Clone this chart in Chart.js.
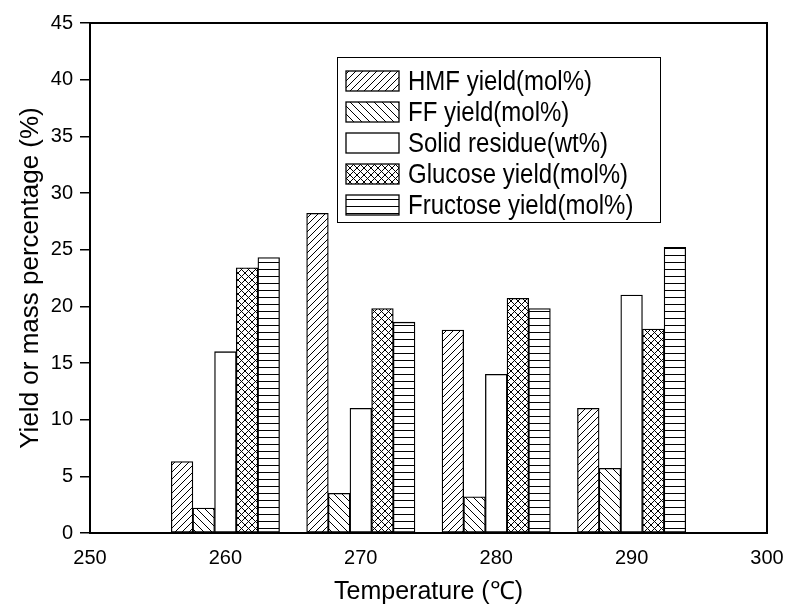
<!DOCTYPE html>
<html>
<head>
<meta charset="utf-8">
<script src="https://cdn.jsdelivr.net/npm/chart.js@4/dist/chart.umd.min.js"></script>
<style>
  html, body { margin: 0; padding: 0; background: #fff; }
  #wrap { width: 786px; height: 604px; }
</style>
</head>
<body>
<div id="wrap"><canvas id="c" width="786" height="604"></canvas></div>
<script>
// ---- Data ----
const temperatures = [260, 270, 280, 290];
const seriesNames = ['HMF yield(mol%)', 'FF yield(mol%)', 'Solid residue(wt%)', 'Glucose yield(mol%)', 'Fructose yield(mol%)'];
const hmfYield      = [6.3, 28.2, 17.9, 11.0];
const ffYield       = [2.2, 3.5, 3.2, 5.7];
const solidResidue  = [16.0, 11.0, 14.0, 21.0];
const glucoseYield  = [23.4, 19.8, 20.7, 18.0];
const fructoseYield = [24.3, 18.6, 19.8, 25.2];
const xTicks = [250, 260, 270, 280, 290, 300];
const yTicks = [0, 5, 10, 15, 20, 25, 30, 35, 40, 45];

const FONT = "'Liberation Sans', Arial, sans-serif";

// ---- Hatch patterns ----
function makePattern(kind) {
  if (kind === 'none') return '#fff';
  const s = kind === 'h' ? 7 : (kind === '\\' ? 8 : 7);
  const cv = document.createElement('canvas');
  cv.width = s; cv.height = s;
  const g = cv.getContext('2d');
  g.fillStyle = '#fff';
  g.fillRect(0, 0, s, s);
  g.strokeStyle = '#000';
  g.lineWidth = 1;
  const fwd = () => { g.beginPath(); g.moveTo(-1, s + 1); g.lineTo(s + 1, -1); g.moveTo(-1, 1); g.lineTo(1, -1); g.moveTo(s - 1, s + 1); g.lineTo(s + 1, s - 1); g.stroke(); };
  const back = () => { g.beginPath(); g.moveTo(-1, -1); g.lineTo(s + 1, s + 1); g.moveTo(s - 1, -1); g.lineTo(s + 1, 1); g.moveTo(-1, s - 1); g.lineTo(1, s + 1); g.stroke(); };
  if (kind === '/') fwd();
  else if (kind === '\\') back();
  else if (kind === 'x') { fwd(); back(); }
  else if (kind === 'h') { g.beginPath(); g.moveTo(0, 3.5); g.lineTo(s, 3.5); g.stroke(); }
  return document.getElementById('c').getContext('2d').createPattern(cv, 'repeat');
}
const patterns = [makePattern('/'), makePattern('\\'), makePattern('none'), makePattern('x'), makePattern('h')];
const seriesValues = [hmfYield, ffYield, solidResidue, glucoseYield, fructoseYield];
const barOffsets = [-3.2, -1.6, 0, 1.6, 3.2]; // group spacing in °C units

const datasets = seriesValues.map((vals, i) => ({
  label: seriesNames[i],
  data: temperatures.map((t, j) => ({ x: t + barOffsets[i], y: vals[j] })),
  backgroundColor: patterns[i],
  borderColor: '#000',
  borderWidth: 1.3,
  borderSkipped: false,
  grouped: false,
  barPercentage: 1,
  categoryPercentage: 1
}));

// ---- Frame + legend plugin ----
const framePlugin = {
  id: 'frameLegend',
  afterDraw(chart) {
    const ctx = chart.ctx;
    const a = chart.chartArea;
    ctx.save();
    ctx.strokeStyle = '#000';
    ctx.lineWidth = 2;
    ctx.beginPath();
    ctx.moveTo(a.left, a.top);
    ctx.lineTo(a.right, a.top);
    ctx.lineTo(a.right, a.bottom);
    ctx.stroke();

    // legend box
    const bx = 337, by = 57, bw = 323, bh = 165;
    ctx.lineWidth = 1;
    ctx.fillStyle = '#fff';
    ctx.fillRect(bx, by, bw, bh);
    ctx.strokeRect(bx + 0.5, by + 0.5, bw, bh);
    ctx.font = '24px ' + FONT;
    ctx.textBaseline = 'middle';
    chart.data.datasets.forEach((ds, i) => {
      const cy = 81 + i * 31;
      ctx.fillStyle = ds.backgroundColor;
      ctx.fillRect(346, cy - 10, 53, 20);
      ctx.strokeStyle = '#000';
      ctx.lineWidth = 1.3;
      ctx.strokeRect(346, cy - 10, 53, 20);
      ctx.save();
      ctx.translate(408, cy + 1);
      ctx.scale(1, 1.17);
      ctx.fillStyle = '#000';
      ctx.fillText(ds.label, 0, 0);
      ctx.restore();
    });
    ctx.restore();
  }
};

new Chart(document.getElementById('c'), {
  type: 'bar',
  data: { datasets },
  options: {
    responsive: false,
    animation: false,
    devicePixelRatio: 1,
    layout: { padding: { top: 23, right: 19, left: 0, bottom: 0 } },
    plugins: { legend: { display: false }, tooltip: { enabled: false } },
    scales: {
      x: {
        type: 'linear',
        offset: false,
        min: 250, max: 300,
        afterBuildTicks: s => { s.ticks = xTicks.map(v => ({ value: v })); },
        afterFit: s => { s.height = 71; s.paddingLeft = 0; s.paddingRight = 0; },
        grid: { display: false, drawTicks: false, offset: false },
        border: { display: true, color: '#000', width: 2 },
        ticks: { color: '#000', font: { family: FONT, size: 20 }, padding: 13, maxRotation: 0 },
        title: { display: true, text: 'Temperature (℃)', color: '#000', font: { family: FONT, size: 25 }, padding: { top: 0, bottom: -3 } }
      },
      y: {
        min: 0, max: 45,
        afterBuildTicks: s => { s.ticks = yTicks.map(v => ({ value: v })); },
        afterFit: s => { s.width = 90; s.paddingTop = 0; s.paddingBottom = 0; },
        grid: { drawOnChartArea: false, drawTicks: true, tickLength: 10, color: '#000', lineWidth: 1.5 },
        border: { display: true, color: '#000', width: 2 },
        ticks: { color: '#000', font: { family: FONT, size: 20 }, padding: 7 },
        title: { display: true, text: 'Yield or mass percentage (%)', color: '#000', font: { family: FONT, size: 26 }, padding: { top: 15, bottom: 0 } }
      }
    }
  },
  plugins: [framePlugin]
});
</script>
</body>
</html>
